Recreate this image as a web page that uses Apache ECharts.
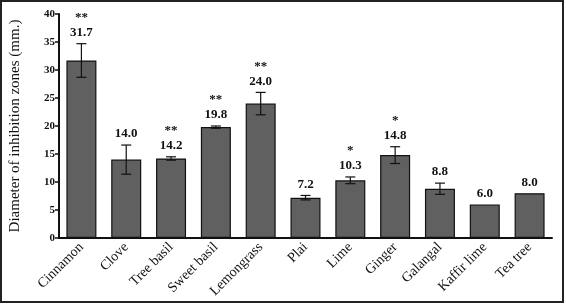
<!DOCTYPE html>
<html><head><meta charset="utf-8">
<script src="https://cdn.jsdelivr.net/npm/echarts@6/dist/echarts.min.js"></script>
<style>html,body{margin:0;padding:0;background:#fff}#c{width:566px;height:304px}</style>
</head><body><div id="c"></div>
<script>
const categories = ['Cinnamon','Clove','Tree basil','Sweet basil','Lemongrass','Plai','Lime','Ginger','Galangal','Kaffir lime','Tea tree'];
const means = [31.7, 14.0, 14.2, 19.8, 24.0, 7.2, 10.3, 14.8, 8.8, 6.0, 8.0];
const errors = [3.0, 2.6, 0.3, 0.2, 2.0, 0.4, 0.6, 1.5, 1.0, 0, 0];
const stars = ['**', '', '**', '**', '**', '', '*', '*', '', '', ''];
const yTicks = [0, 5, 10, 15, 20, 25, 30, 35, 40];

const serif = '"Liberation Serif", "Times New Roman", serif';
const chart = echarts.init(document.getElementById('c'));
chart.setOption({
  animation: false,
  graphic: [{
    type: 'rect', shape: {x: 1, y: 1, width: 562, height: 301},
    style: {fill: 'none', stroke: '#222', lineWidth: 2}, silent: true
  }],
  grid: {left: 56, right: 14, top: 14, bottom: 66},
  xAxis: {
    type: 'category', data: categories,
    axisLine: {lineStyle: {color: '#111', width: 2}},
    axisTick: {alignWithLabel: true, length: 4, lineStyle: {color: '#111', width: 1.5}},
    axisLabel: {rotate: 45, interval: 0, fontFamily: serif, fontSize: 14, color: '#111', margin: 7}
  },
  yAxis: {
    type: 'value', min: yTicks[0], max: yTicks[yTicks.length - 1], interval: 5,
    name: 'Diameter of inhibition zones (mm.)', nameLocation: 'middle', nameGap: 36,
    nameTextStyle: {fontFamily: serif, fontSize: 15, color: '#111'},
    axisLine: {show: true, lineStyle: {color: '#111', width: 2}},
    axisTick: {show: true, length: 4, lineStyle: {color: '#111', width: 1.5}},
    axisLabel: {fontFamily: serif, fontSize: 11, fontWeight: 'bold', color: '#111', margin: 4},
    splitLine: {show: false}
  },
  series: [{
    type: 'bar', data: means, barWidth: 30,
    itemStyle: {color: '#606060', borderColor: '#111', borderWidth: 1.2}
  }, {
    type: 'custom', data: means.map((m, i) => [i, m, errors[i]]),
    renderItem: function (params, api) {
      const i = api.value(0), m = api.value(1), e = api.value(2);
      const top = api.coord([i, m + e]);
      const bot = api.coord([i, m - e]);
      const children = [];
      if (e > 0) {
        const hw = 5;
        const ls = {stroke: '#111', lineWidth: 1.2};
        children.push({type: 'line', shape: {x1: top[0], y1: top[1], x2: bot[0], y2: bot[1]}, style: ls});
        children.push({type: 'line', shape: {x1: top[0]-hw, y1: top[1], x2: top[0]+hw, y2: top[1]}, style: ls});
        children.push({type: 'line', shape: {x1: bot[0]-hw, y1: bot[1], x2: bot[0]+hw, y2: bot[1]}, style: ls});
      }
      const labelY = top[1] - 11;
      children.push({type: 'text', style: {
        text: means[i].toFixed(1), x: top[0], y: labelY, align: 'center', verticalAlign: 'middle',
        font: 'bold 13px ' + serif, fill: '#111'}});
      if (stars[i]) {
        children.push({type: 'text', style: {
          text: stars[i], x: top[0], y: labelY - 15, align: 'center', verticalAlign: 'middle',
          font: 'bold 13px ' + serif, fill: '#111'}});
      }
      return {type: 'group', children: children};
    },
    z: 5
  }]
});
</script></body></html>
